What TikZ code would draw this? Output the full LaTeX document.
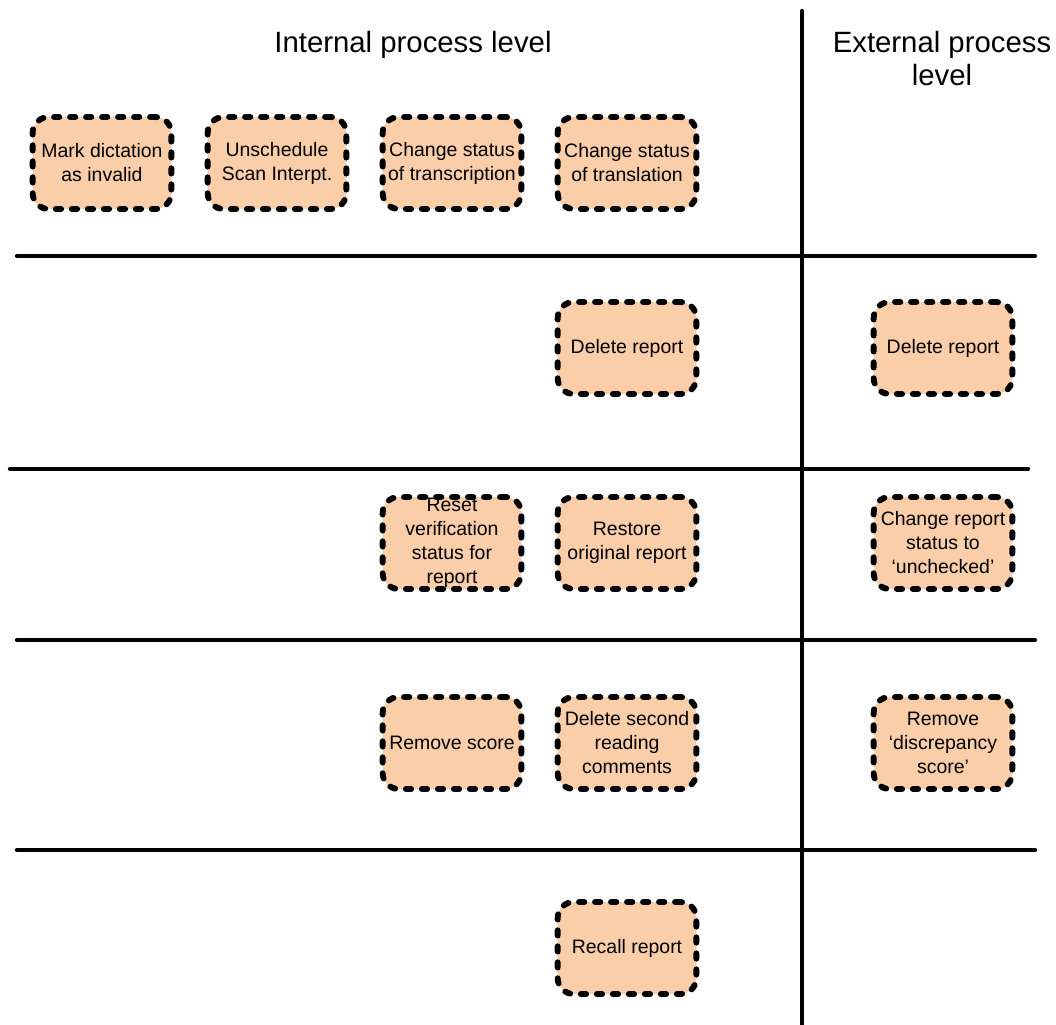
\documentclass[tikz,border=0pt]{standalone}
\usepackage{fontspec}
\setmainfont{Liberation Sans}
\definecolor{peach}{RGB}{250,206,168}
\begin{document}
\begin{tikzpicture}[x=0.75pt,y=-0.75pt,
  task/.style={draw=black, fill=peach, line width=4.4pt, dash pattern=on 4pt off 8pt,
    line cap=round, rounded corners=12pt, minimum width=104pt, minimum height=69pt,
    inner sep=0pt, align=center, font=\fontsize{14.6pt}{18pt}\selectfont},
  head/.style={align=center, inner sep=0pt, font=\fontsize{22pt}{24.75pt}\selectfont},
  lane/.style={line width=3.2pt, line cap=round}]
\useasboundingbox (0,0) rectangle (1056,1024);
% lane lines
\draw[lane] (17,256) -- (1035,256);
\draw[lane] (10,469) -- (1028,469);
\draw[lane] (17,640) -- (1035,640);
\draw[lane] (17,850) -- (1035,850);
\draw[lane] (802,11) -- (802,1030);
% headers
\node[head] (hint) at (413,45) {Internal process level};
\node[head] (hext) at (942,59) {External process\\level};
% row 1
\node[task] (a1) at (102,163) {Mark dictation\\as invalid};
\node[task] (a2) at (277,163) {Unschedule\\Scan Interpt.};
\node[task] (a3) at (452,163) {Change status\\of transcription};
\node[task] (a4) at (627,163) {Change status\\of translation};
% row 2
\node[task] (b1) at (627,348) {Delete report};
\node[task] (b2) at (943,348) {Delete report};
% row 3
\node[task] (c1) at (452,543) {Reset\\verification\\status for\\report};
\node[task] (c2) at (627,543) {Restore\\original report};
\node[task] (c3) at (943,543) {Change report\\status to\\‘unchecked’};
% row 4
\node[task] (d1) at (452,743) {Remove score};
\node[task] (d2) at (627,743) {Delete second\\reading\\comments};
\node[task] (d3) at (943,743) {Remove\\‘discrepancy\\score’};
% row 5
\node[task] (e1) at (627,948) {Recall report};
\end{tikzpicture}
\end{document}
